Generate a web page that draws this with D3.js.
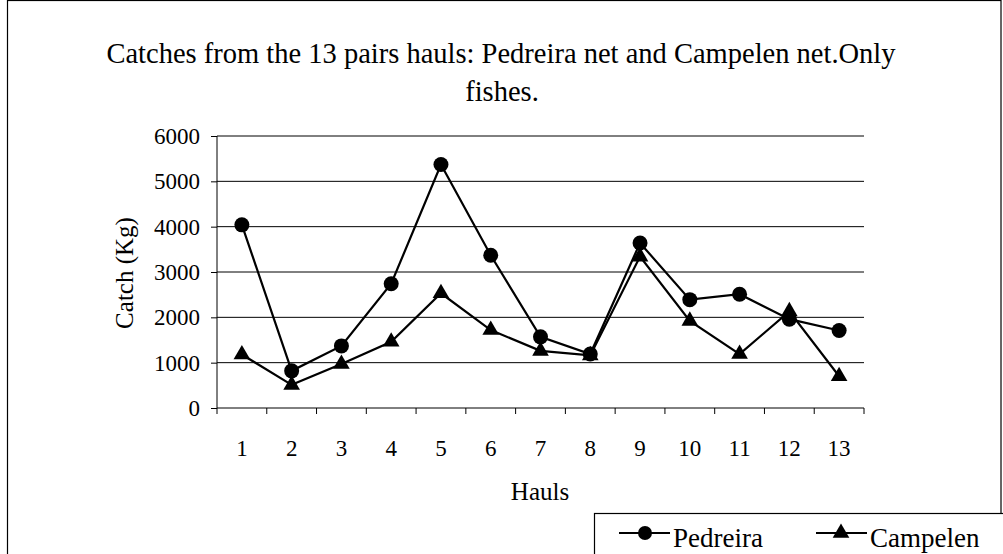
<!DOCTYPE html>
<html>
<head>
<meta charset="utf-8">
<script src="https://cdn.jsdelivr.net/npm/d3@7"></script>
<style>
  body { margin: 0; background: #fff; }
  svg { display: block; }
  text { font-family: "Liberation Serif", "Times New Roman", serif; fill: #000; }
</style>
</head>
<body>
<script>
var hauls = ["1", "2", "3", "4", "5", "6", "7", "8", "9", "10", "11", "12", "13"];
var pedreira = [4040, 820, 1370, 2740, 5370, 3370, 1570, 1190, 3640, 2390, 2510, 1960, 1710];
var campelen = [1180, 510, 970, 1460, 2530, 1720, 1260, 1160, 3340, 1920, 1190, 2130, 700];
var yTicks = [0, 1000, 2000, 3000, 4000, 5000, 6000];
var seriesNames = ["Pedreira", "Campelen"];

var W = 1003, H = 554;
var margin = { top: 136, right: 139, bottom: 146, left: 217 },
    width = W - margin.left - margin.right,
    height = H - margin.top - margin.bottom;

var svg = d3.select("body").append("svg")
    .attr("width", W)
    .attr("height", H);

// outer frame
svg.append("rect")
    .attr("x", 7.5).attr("y", 0.5)
    .attr("width", 993.5).attr("height", H + 10)
    .attr("fill", "none").attr("stroke", "#000").attr("stroke-width", 1.2);

// title (two lines, as wrapped in the original)
svg.append("text")
    .attr("x", 501).attr("y", 63)
    .attr("text-anchor", "middle")
    .style("font-size", "28.5px")
    .text("Catches from the 13 pairs hauls: Pedreira net and Campelen net.Only");
svg.append("text")
    .attr("x", 502).attr("y", 101)
    .attr("text-anchor", "middle")
    .style("font-size", "28.5px")
    .text("fishes.");

var g = svg.append("g")
    .attr("transform", "translate(" + margin.left + "," + margin.top + ")");

var x = d3.scaleBand().domain(hauls).range([0, width]);
var y = d3.scaleLinear().domain([0, 6000]).range([height, 0]);

// gridlines
g.append("g").selectAll("line")
    .data(yTicks.slice(1))
    .enter().append("line")
    .attr("x1", 0).attr("x2", width)
    .attr("y1", function (d) { return y(d); })
    .attr("y2", function (d) { return y(d); })
    .attr("stroke", "#000").attr("stroke-width", 1);

// y axis
var yAxis = g.append("g")
    .call(d3.axisLeft(y).tickValues(yTicks).tickSize(6).tickPadding(11).tickFormat(d3.format("d")));
yAxis.select(".domain").attr("stroke", "#000").attr("d", "M0," + height + "V0");
yAxis.selectAll("text").style("font-size", "23px").style("font-family", "Liberation Serif");

// x axis: ticks at band boundaries
var xAxis = g.append("g").attr("transform", "translate(0," + height + ")");
xAxis.append("line").attr("x1", 0).attr("x2", width).attr("stroke", "#000");
xAxis.selectAll(".btick")
    .data(d3.range(hauls.length + 1))
    .enter().append("line")
    .attr("class", "btick")
    .attr("x1", function (i) { return i * x.step(); })
    .attr("x2", function (i) { return i * x.step(); })
    .attr("y1", 0).attr("y2", 6)
    .attr("stroke", "#000");
xAxis.selectAll(".xlab")
    .data(hauls)
    .enter().append("text")
    .attr("class", "xlab")
    .attr("x", function (d) { return x(d) + x.bandwidth() / 2; })
    .attr("y", 48)
    .attr("text-anchor", "middle")
    .style("font-size", "23px")
    .text(function (d) { return d; });

// axis titles
svg.append("text")
    .attr("x", 540).attr("y", 500)
    .attr("text-anchor", "middle")
    .style("font-size", "25px")
    .text("Hauls");
svg.append("text")
    .attr("transform", "translate(133,273) rotate(-90)")
    .attr("text-anchor", "middle")
    .style("font-size", "25px")
    .text("Catch (Kg)");

var cx = function (d, i) { return x(hauls[i]) + x.bandwidth() / 2; };
var line = d3.line().x(cx).y(function (d) { return y(d); });

var triangle = d3.symbol().type(d3.symbolTriangle).size(120);

function drawSeries(vals, kind) {
    g.append("path")
        .datum(vals)
        .attr("d", line)
        .attr("fill", "none")
        .attr("stroke", "#000")
        .attr("stroke-width", 2.2);
    if (kind === "circle") {
        g.append("g").selectAll("circle")
            .data(vals)
            .enter().append("circle")
            .attr("cx", cx)
            .attr("cy", function (d) { return y(d); })
            .attr("r", 7.5)
            .attr("fill", "#000");
    } else {
        g.append("g").selectAll("path")
            .data(vals)
            .enter().append("path")
            .attr("d", triangle)
            .attr("transform", function (d, i) { return "translate(" + cx(d, i) + "," + y(d) + ")"; })
            .attr("fill", "#000");
    }
}
drawSeries(campelen, "triangle");
drawSeries(pedreira, "circle");

// legend
var leg = svg.append("g");
leg.append("rect")
    .attr("x", 594.5).attr("y", 513.5)
    .attr("width", 420).attr("height", 60)
    .attr("fill", "#fff").attr("stroke", "#000").attr("stroke-width", 1.2);
var legItems = [{ name: seriesNames[0], x0: 619, kind: "circle" }, { name: seriesNames[1], x0: 816, kind: "triangle" }];
legItems.forEach(function (it) {
    leg.append("line")
        .attr("x1", it.x0).attr("x2", it.x0 + 51)
        .attr("y1", 533).attr("y2", 533)
        .attr("stroke", "#000").attr("stroke-width", 2.2);
    if (it.kind === "circle") {
        leg.append("circle").attr("cx", it.x0 + 26).attr("cy", 533).attr("r", 7).attr("fill", "#000");
    } else {
        leg.append("path").attr("d", triangle).attr("transform", "translate(" + (it.x0 + 25) + ",533)").attr("fill", "#000");
    }
    leg.append("text")
        .attr("x", it.x0 + 54).attr("y", 547)
        .style("font-size", "27px")
        .text(it.name);
});
</script>
</body>
</html>
